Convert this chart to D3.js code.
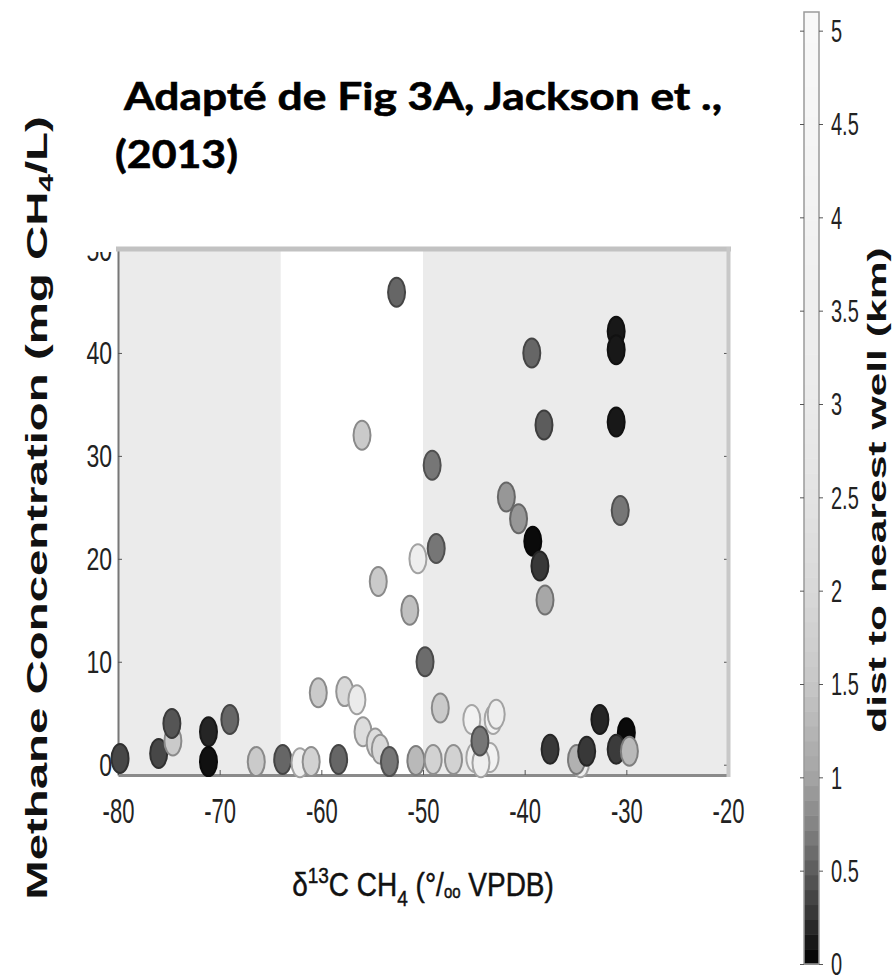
<!DOCTYPE html>
<html>
<head>
<meta charset="utf-8">
<script src="https://cdn.jsdelivr.net/npm/d3@7/dist/d3.min.js"></script>
<style>
  html, body { margin: 0; padding: 0; background: #fff; }
  svg { display: block; }
  .tick line { stroke: #555; }
</style>
</head>
<body>
<svg id="chart" width="894" height="976"></svg>
<script>
// δ13C of dissolved methane (‰ VPDB), one entry per sampled well
const d13C = [
  -79.8, -76.0, -74.6, -74.7, -71.1, -71.1, -69.0,
  -66.4, -63.8, -62.1, -61.0, -58.3, -60.3, -57.7, -56.5, -55.9, -54.7, -54.2, -53.3,
  -50.7, -49.0, -47.0, -54.4, -51.3, -50.5, -48.7, -49.8, -48.3, -52.6, -56.0, -49.1,
  -45.2, -43.1, -42.8, -44.9, -43.4, -44.3, -44.4,
  -39.3, -31.0, -31.0, -38.1, -31.0, -41.8, -40.6, -30.6, -39.2, -38.5, -38.0,
  -37.5, -34.5, -34.9, -33.9, -32.6, -30.0, -31.0, -29.7
];
// methane concentration (mg CH4/L)
const ch4 = [
  0.6, 1.1, 2.3, 4.0, 3.2, 0.3, 4.4,
  0.3, 0.5, 0.2, 0.3, 0.5, 7.0, 7.1, 6.3, 3.2, 2.1, 1.5, 0.3,
  0.4, 0.5, 0.5, 17.8, 15.0, 20.0, 21.0, 10.0, 5.5, 45.9, 32.0, 29.1,
  4.4, 4.4, 4.9, 0.7, 0.7, 0.2, 2.3,
  40.0, 42.1, 40.3, 33.0, 33.3, 26.0, 23.9, 24.7, 21.7, 19.3, 16.0,
  1.5, 0.2, 0.5, 1.3, 4.4, 3.1, 1.5, 1.3
];
// distance to the nearest gas well (km)
const distKm = [
  0.37, 0.37, 1.6, 0.46, 0.18, 0.08, 0.56,
  1.6, 0.56, 3.5, 1.8, 0.56, 1.6, 2.0, 3.0, 2.2, 2.2, 2.0, 0.66,
  1.3, 1.8, 1.8, 1.6, 1.4, 3.5, 0.66, 0.6, 1.6, 0.56, 1.6, 0.66,
  4.0, 4.0, 3.5, 4.0, 4.0, 3.5, 0.66,
  0.56, 0.12, 0.12, 0.5, 0.12, 0.9, 0.9, 0.66, 0.05, 0.28, 1.05,
  0.28, 3.5, 1.2, 0.28, 0.18, 0.05, 0.3, 1.3
];

const xTicks = [-80, -70, -60, -50, -40, -30, -20];
const yTicks = [0, 10, 20, 30, 40, 50];
const cbarTicks = [0, 0.5, 1, 1.5, 2, 2.5, 3, 3.5, 4, 4.5, 5];
// shaded δ13C ranges behind the points
const bandRanges = [[-80, -64], [-50, -20]];
// grey colormap: distance (km) -> grey level
const cmapDist = [0, 0.25, 0.5, 0.75, 1, 1.5, 2, 2.5, 3, 4, 5.1];
const cmapGrey = [0, 0.2, 0.36, 0.52, 0.64, 0.78, 0.85, 0.89, 0.92, 0.95, 0.975];
const cmapSteps = 64;

const titleLines = ["Adapté de Fig 3A, Jackson et .,", "(2013)"];

const svg = d3.select("#chart");
const FONT = "'Liberation Sans', Arial, Helvetica, sans-serif";

const x = d3.scaleLinear().domain([-80, -20]).range([118, 728]);
const y = d3.scaleLinear().domain([-1, 50]).range([775, 250]);
const cb = d3.scaleLinear().domain([0, 5.1]).range([964, 12]);
const greyOf = d3.scaleLinear().domain(cmapDist).range(cmapGrey).clamp(true);
const fillOf = v => { const g = Math.round(255 * greyOf(v)); return d3.rgb(g, g, g).formatHex(); };
const edgeOf = v => { const g = Math.round(255 * greyOf(v) * 0.68); return d3.rgb(g, g, g).formatHex(); };

// background bands
svg.append("g").selectAll("rect").data(bandRanges).join("rect")
  .attr("x", d => x(d[0]))
  .attr("width", d => x(d[1]) - x(d[0]))
  .attr("y", y(50))
  .attr("height", y(-1) - y(50))
  .attr("fill", "#ebebeb");

// left axis
const gy = svg.append("g")
  .attr("transform", `translate(${x(-80)},0)`)
  .call(d3.axisLeft(y).tickValues(yTicks).tickSize(-4).tickSizeOuter(0).tickPadding(6)
    .tickFormat(d => String(d)));
gy.select(".domain").attr("stroke", "#777").attr("stroke-width", 2);
gy.selectAll(".tick text")
  .attr("dy", null).attr("dominant-baseline", "central")
  .attr("transform", "scale(1,1.4)")
  .attr("font-family", FONT).attr("font-size", 23).attr("fill", "#222");
// the figure is cropped just above the top frame
svg.append("rect").attr("x", 60).attr("y", 180).attr("width", 55).attr("height", 72).attr("fill", "#fff");

// right-hand ticks
const gyr = svg.append("g")
  .attr("transform", `translate(${x(-20)},0)`)
  .call(d3.axisRight(y).tickValues(yTicks.slice(0, 5)).tickSize(-4).tickSizeOuter(0).tickFormat(""));
gyr.select(".domain").remove();

// bottom axis
const gx = svg.append("g")
  .attr("transform", `translate(0,${y(-1)})`)
  .call(d3.axisBottom(x).tickValues(xTicks).tickSize(-5).tickSizeOuter(0)
    .tickFormat(d => String(d)));
gx.select(".domain").attr("stroke", "#8a8a8a").attr("stroke-width", 3);
gx.selectAll(".tick text")
  .attr("y", 0).attr("dy", null).attr("dominant-baseline", "central")
  .attr("transform", "translate(0,35) scale(1,1.6)")
  .attr("font-family", FONT).attr("font-size", 22).attr("fill", "#222");

// top and right frame lines
svg.append("line")
  .attr("x1", x(-80) - 2).attr("x2", x(-20) + 3)
  .attr("y1", y(50) - 1).attr("y2", y(50) - 1)
  .attr("stroke", "#c2c2c2").attr("stroke-width", 5);
svg.append("line")
  .attr("x1", x(-20) + 0.5).attr("x2", x(-20) + 0.5)
  .attr("y1", y(50) - 3).attr("y2", y(-1) + 2)
  .attr("stroke", "#c8c8c8").attr("stroke-width", 4);

// points
const pts = d3.range(d13C.length);
svg.append("g").selectAll("ellipse").data(pts).join("ellipse")
  .attr("cx", i => x(d13C[i]))
  .attr("cy", i => y(ch4[i]))
  .attr("rx", 8.5).attr("ry", 14.5)
  .attr("fill", i => fillOf(distKm[i]))
  .attr("stroke", i => edgeOf(distKm[i]))
  .attr("stroke-width", 2);

// y-axis title
const yt = svg.append("g").attr("transform", "translate(47,508) rotate(-90) scale(1.58,1)")
  .append("text")
  .attr("text-anchor", "middle")
  .attr("font-family", FONT).attr("font-weight", "bold").attr("font-size", 30).attr("fill", "#111");
yt.append("tspan").text("Methane Concentration (mg CH");
yt.append("tspan").attr("font-size", 20).attr("dy", 6).text("4");
yt.append("tspan").attr("dy", -6).text("/L)");

// x-axis title
const xt = svg.append("g").attr("transform", "translate(423,896) scale(1,1.2)")
  .append("text")
  .attr("text-anchor", "middle")
  .attr("font-family", FONT).attr("font-size", 28).attr("fill", "#111")
  .attr("stroke", "#111").attr("stroke-width", 0.4);
xt.append("tspan").text("δ");
xt.append("tspan").attr("font-size", 19).attr("dy", -11).text("13");
xt.append("tspan").attr("dy", 11).text("C CH");
xt.append("tspan").attr("font-size", 19).attr("dy", 8).text("4");
xt.append("tspan").attr("dy", -8).text("  (°/");
xt.append("tspan").attr("font-size", 15).attr("dy", 2).text("oo");
xt.append("tspan").attr("dy", -2).text(" VPDB)");

// colour bar
const cbX = 804, cbW = 15;
const stepH = (cb(0) - cb(5.1)) / cmapSteps;
svg.append("g").selectAll("rect").data(d3.range(cmapSteps)).join("rect")
  .attr("x", cbX)
  .attr("y", i => cb((i + 1) * 5.1 / cmapSteps))
  .attr("width", cbW)
  .attr("height", stepH + 0.6)
  .attr("fill", i => fillOf((i + 0.5) * 5.1 / cmapSteps));
svg.append("rect")
  .attr("x", cbX).attr("y", cb(5.1)).attr("width", cbW).attr("height", cb(0) - cb(5.1))
  .attr("fill", "none").attr("stroke", "#9a9a9a").attr("stroke-width", 1.5);
const gcL = svg.append("g").attr("transform", `translate(${cbX},0)`)
  .call(d3.axisLeft(cb).tickValues(cbarTicks).tickSize(4).tickSizeOuter(0).tickFormat(""));
gcL.select(".domain").remove();
const gcR = svg.append("g").attr("transform", `translate(${cbX + cbW},0)`)
  .call(d3.axisRight(cb).tickValues(cbarTicks).tickSize(4).tickSizeOuter(0).tickPadding(8)
    .tickFormat(d3.format("~g")));
gcR.select(".domain").remove();
gcR.selectAll(".tick text")
  .attr("dy", null).attr("dominant-baseline", "central")
  .attr("transform", "scale(1,1.55)")
  .attr("font-family", FONT).attr("font-size", 20).attr("fill", "#222");

// colour bar title
svg.append("g").attr("transform", "translate(886,490) rotate(-90) scale(1.64,1)")
  .append("text")
  .attr("text-anchor", "middle")
  .attr("font-family", FONT).attr("font-weight", "bold").attr("font-size", 26).attr("fill", "#111")
  .text("dist to nearest well (km)");

// heading
const head = svg.append("g")
  .attr("font-family", "Lato, 'Open Sans', sans-serif")
  .attr("font-weight", 700).attr("fill", "#000")
  .attr("stroke", "#000").attr("stroke-width", 0.6);
head.append("text").attr("x", 124).attr("y", 110).attr("font-size", 38)
  .attr("textLength", 598).attr("lengthAdjust", "spacingAndGlyphs").text(titleLines[0]);
head.append("text").attr("x", 115).attr("y", 168).attr("font-size", 38)
  .attr("textLength", 123).attr("lengthAdjust", "spacingAndGlyphs").text(titleLines[1]);
</script>
</body>
</html>
